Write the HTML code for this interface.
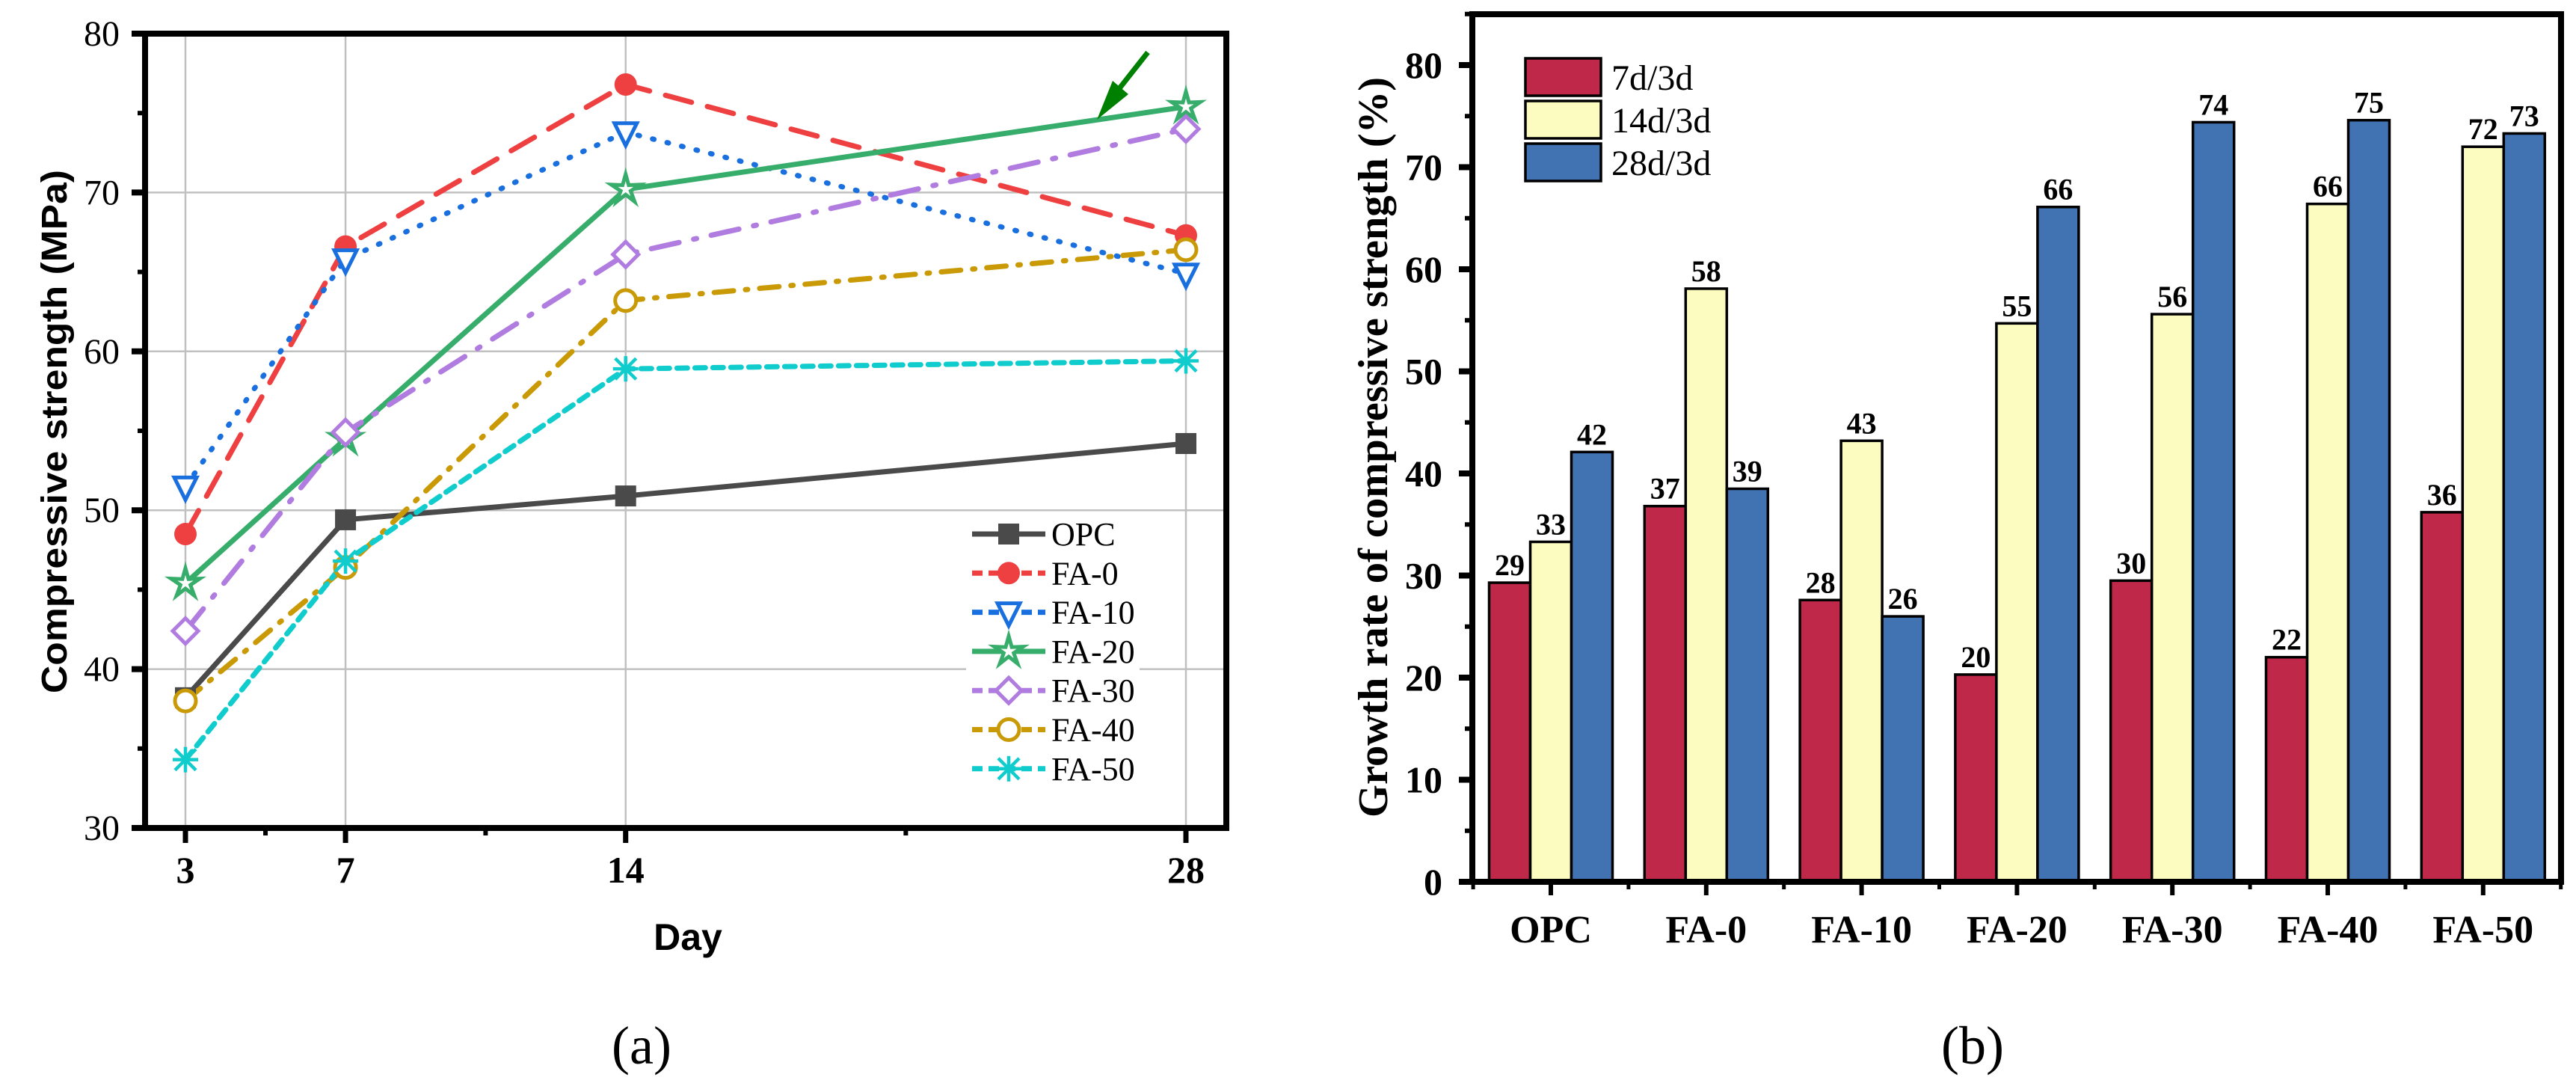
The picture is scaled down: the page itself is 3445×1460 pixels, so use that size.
<!DOCTYPE html>
<html><head><meta charset="utf-8"><style>
html,body{margin:0;padding:0;background:#fff;}
svg{display:block;}
.serif{font-family:"Liberation Serif",serif;}
.sans{font-family:"Liberation Sans",sans-serif;}
</style></head><body>
<svg id="svg" width="3445" height="1460" viewBox="0 0 3445 1460" xmlns="http://www.w3.org/2000/svg">
<g id="chartA"></g>
<g id="chartB"></g>
</svg>
<script>
// ---- Chart A data ----
const daysA = [3, 7, 14, 28];
const seriesNamesA = ["OPC","FA-0","FA-10","FA-20","FA-30","FA-40","FA-50"];
const opcVals = [38.2, 49.4, 50.9, 54.2];
const fa0Vals = [48.5, 66.6, 76.8, 67.3];
const fa10Vals = [51.5, 65.8, 73.8, 64.9];
const fa20Vals = [45.4, 54.5, 70.2, 75.4];
const fa30Vals = [42.4, 54.9, 66.1, 74.0];
const fa40Vals = [38.0, 46.4, 63.2, 66.4];
const fa50Vals = [34.3, 46.8, 58.9, 59.4];
const yTicksA = [30, 40, 50, 60, 70, 80];
const xTicksA = [3, 7, 14, 28];
const xMinorA = [5, 10.5, 21];
// ---- Chart B data ----
const categoriesB = ["OPC","FA-0","FA-10","FA-20","FA-30","FA-40","FA-50"];
const legendB = ["7d/3d","14d/3d","28d/3d"];
const r7Vals = [29.3, 36.8, 27.6, 20.3, 29.5, 22.0, 36.2];
const r14Vals = [33.3, 58.1, 43.2, 54.7, 55.6, 66.4, 72.0];
const r28Vals = [42.1, 38.5, 26.0, 66.1, 74.4, 74.6, 73.3];
const r7Labels = ["29","37","28","20","30","22","36"];
const r14Labels = ["33","58","43","55","56","66","72"];
const r28Labels = ["42","39","26","66","74","75","73"];
const yTicksB = [0,10,20,30,40,50,60,70,80];

const NS = "http://www.w3.org/2000/svg";
function mk(parent, tag, attrs, text){
  const e = document.createElementNS(NS, tag);
  for (const k in attrs) e.setAttribute(k, attrs[k]);
  if (text !== undefined) e.textContent = text;
  parent.appendChild(e);
  return e;
}

// ===== Chart A =====
const A = document.getElementById("chartA");
const axL = 194, axR = 1640, axT = 45, axB = 1107;
const xA = d => 248 + (d - 3) * 53.52;
const yA = v => axB - (v - 30) * 21.24;

xTicksA.forEach(d => {
  const g = mk(A, "line", {x1:xA(d), x2:xA(d), y1:axT, y2:axB, stroke:"#c0c0c0", "stroke-width":2.5});
  
  
});
yTicksA.slice(1,-1).forEach(v => {
  const g = mk(A, "line", {x1:axL, x2:axR, y1:yA(v), y2:yA(v), stroke:"#c0c0c0", "stroke-width":2.5});
  
  
});

const seriesA = [
  {name:"OPC", vals:opcVals, color:"#4a4a4a", dash:"", marker:"square"},
  {name:"FA-0", vals:fa0Vals, color:"#ee4040", dash:"36 22", marker:"circle"},
  {name:"FA-10", vals:fa10Vals, color:"#1a6fdf", dash:"2 18", marker:"tri"},
  {name:"FA-20", vals:fa20Vals, color:"#37ad6b", dash:"", marker:"star"},
  {name:"FA-30", vals:fa30Vals, color:"#b07ce0", dash:"38 20 4 20", marker:"diamond"},
  {name:"FA-40", vals:fa40Vals, color:"#c99a06", dash:"26 16 3 16", marker:"ocircle"},
  {name:"FA-50", vals:fa50Vals, color:"#10cccc", dash:"14 10", marker:"asterisk"}
];
function marker(parent, type, cx, cy, color, s){
  let e;
  if (type === "square") e = mk(parent, "rect", {x:cx-s, y:cy-s, width:2*s, height:2*s, fill:color});
  else if (type === "circle") e = mk(parent, "circle", {cx:cx, cy:cy, r:s+1, fill:color});
  else if (type === "tri") e = mk(parent, "polygon", {points:`${cx-s-1},${cy-s+2} ${cx+s+1},${cy-s+2} ${cx},${cy+s+4}`, fill:"#fff", stroke:color, "stroke-width":5});
  else if (type === "diamond") e = mk(parent, "polygon", {points:`${cx},${cy-s-3} ${cx+s+3},${cy} ${cx},${cy+s+3} ${cx-s-3},${cy}`, fill:"#fff", stroke:color, "stroke-width":5});
  else if (type === "ocircle") e = mk(parent, "circle", {cx:cx, cy:cy, r:s, fill:"#fff", stroke:color, "stroke-width":5});
  else if (type === "star") {
    let pts = [];
    for (let i=0;i<10;i++){ const r = i%2? s*0.5 : s*1.45; const a = -Math.PI/2 + i*Math.PI/5; pts.push((cx+r*Math.cos(a)).toFixed(1)+","+(cy+r*Math.sin(a)).toFixed(1)); }
    e = mk(parent, "polygon", {points:pts.join(" "), fill:"#fff", stroke:color, "stroke-width":5});
  } else if (type === "asterisk") {
    e = mk(parent, "g", {stroke:color, "stroke-width":4.5});
    mk(e, "line", {x1:cx, x2:cx, y1:cy-s-3, y2:cy+s+3});
    mk(e, "line", {x1:cx-s-3, x2:cx+s+3, y1:cy, y2:cy});
    mk(e, "line", {x1:cx-s, x2:cx+s, y1:cy-s, y2:cy+s});
    mk(e, "line", {x1:cx-s, x2:cx+s, y1:cy+s, y2:cy-s});
  }
  return e;
}
seriesA.forEach(s => {
  const pts = s.vals.map((v,i) => xA(daysA[i]).toFixed(1)+","+yA(v).toFixed(1)).join(" ");
  const l = mk(A, "polyline", {points:pts, fill:"none", stroke:s.color, "stroke-width":7, "stroke-linecap":"round", "stroke-dasharray":s.dash});
  
  
});
seriesA.forEach(s => {
  s.vals.forEach((v,i) => {
    const m = marker(A, s.marker, xA(daysA[i]), yA(v), s.color, 14);
    
    
  });
});

const arr = mk(A, "g", {});


mk(arr, "line", {x1:1535, y1:70, x2:1494, y2:122, stroke:"#008000", "stroke-width":7});
mk(arr, "polygon", {points:"1467,160 1488,108 1509,126", fill:"#008000"});

const lg = mk(A, "g", {});


mk(lg, "rect", {x:1292, y:690, width:232, height:365, fill:"#fff"});
seriesA.forEach((s,i) => {
  const y = 714 + i*52.3;
  const ge = mk(lg, "g", {});
  
  
  mk(ge, "line", {x1:1300, x2:1398, y1:y, y2:y, stroke:s.color, "stroke-width":7, "stroke-dasharray":s.dash ? "14 8" : ""});
  marker(ge, s.marker, 1349, y, s.color, 14);
  mk(ge, "text", {x:1406, y:y+15, "font-size":44, class:"serif"}, s.name);
});

const ax = mk(A, "g", {stroke:"#000"});


mk(ax, "rect", {x:axL, y:axT, width:axR-axL, height:axB-axT, fill:"none", "stroke-width":8});
yTicksA.forEach(v => mk(ax, "line", {x1:axL-18, x2:axL, y1:yA(v), y2:yA(v), "stroke-width":8}));
yTicksA.slice(0,-1).forEach(v => mk(ax, "line", {x1:axL-10, x2:axL, y1:yA(v+5), y2:yA(v+5), "stroke-width":6}));
xTicksA.forEach(d => mk(ax, "line", {x1:xA(d), x2:xA(d), y1:axB, y2:axB+20, "stroke-width":7}));
xMinorA.forEach(d => mk(ax, "line", {x1:xA(d), x2:xA(d), y1:axB, y2:axB+10, "stroke-width":6}));
yTicksA.forEach(v => {
  const t = mk(A, "text", {x:160, y:yA(v)+16, "text-anchor":"end", "font-size":48, class:"serif"}, String(v));
  
  
});
xTicksA.forEach(d => {
  const t = mk(A, "text", {x:xA(d), y:1180, "text-anchor":"middle", "font-size":50, "font-weight":"bold", class:"serif"}, String(d));
  
  
});
let t = mk(A, "text", {x:920, y:1270, "text-anchor":"middle", "font-size":50, "font-weight":"bold", class:"sans"}, "Day");


t = mk(A, "text", {x:0, y:0, "text-anchor":"middle", "font-size":48, "font-weight":"bold", class:"sans", transform:"translate(89,577) rotate(-90)", textLength:700, lengthAdjust:"spacingAndGlyphs"}, "Compressive strength (MPa)");


t = mk(A, "text", {x:858, y:1422, "text-anchor":"middle", "font-size":72, class:"serif"}, "(a)");



// ===== Chart B =====
const B = document.getElementById("chartB");
const bL = 1969, bR = 3425, bT = 19, bB = 1179;
const yB = v => bB - v * 13.65;
const xB = i => 2074 + i * 207.8;
const bw = 55;
const colorsB = ["#c0284a", "#fcfcc0", "#4172b2"];
const valsB = [r7Vals, r14Vals, r28Vals];
const labsB = [r7Labels, r14Labels, r28Labels];
valsB.forEach((vals, s) => {
  vals.forEach((v, i) => {
    const x = xB(i) + (s-1)*bw - bw/2;
    const r = mk(B, "rect", {x:x, y:yB(v), width:bw, height:bB-yB(v), fill:colorsB[s], stroke:"#000", "stroke-width":3.5});
    
    
    const lt = mk(B, "text", {x:x+bw/2, y:yB(v)-10, "text-anchor":"middle", "font-size":40, "font-weight":"bold", class:"serif"}, labsB[s][i]);
    
    
  });
});
const lgB = mk(B, "g", {});


legendB.forEach((n, s) => {
  const y = 78 + s*57;
  const ge = mk(lgB, "g", {});
  
  
  mk(ge, "rect", {x:2040, y:y, width:101, height:50, fill:colorsB[s], stroke:"#000", "stroke-width":3.5});
  mk(ge, "text", {x:2155, y:y+42, "font-size":48, class:"serif"}, n);
});
const axB2 = mk(B, "g", {stroke:"#000"});


mk(axB2, "rect", {x:bL, y:bT, width:bR-bL, height:bB-bT, fill:"none", "stroke-width":8});
yTicksB.forEach(v => mk(axB2, "line", {x1:bL-18, x2:bL, y1:yB(v), y2:yB(v), "stroke-width":8}));
yTicksB.forEach(v => mk(axB2, "line", {x1:bL-10, x2:bL, y1:yB(v+5), y2:yB(v+5), "stroke-width":6}));
categoriesB.forEach((c, i) => {
  mk(axB2, "line", {x1:xB(i), x2:xB(i), y1:bB, y2:bB+18, "stroke-width":6});
  mk(axB2, "line", {x1:xB(i)-103.9, x2:xB(i)-103.9, y1:bB, y2:bB+10, "stroke-width":5});
});
mk(axB2, "line", {x1:xB(6)+103.9, x2:xB(6)+103.9, y1:bB, y2:bB+10, "stroke-width":5});
yTicksB.forEach(v => {
  const tt = mk(B, "text", {x:1929, y:yB(v)+17, "text-anchor":"end", "font-size":50, "font-weight":"bold", class:"serif"}, String(v));
  
  
});
categoriesB.forEach((c, i) => {
  const tt = mk(B, "text", {x:xB(i), y:1260, "text-anchor":"middle", "font-size":52, "font-weight":"bold", class:"serif"}, c);
  
  
});
t = mk(B, "text", {x:0, y:0, "text-anchor":"middle", "font-size":56, "font-weight":"bold", class:"serif", transform:"translate(1855,598) rotate(-90)", textLength:990, lengthAdjust:"spacingAndGlyphs"}, "Growth rate of compressive strength (%)");


t = mk(B, "text", {x:2638, y:1422, "text-anchor":"middle", "font-size":72, class:"serif"}, "(b)");


</script>
</body></html>
